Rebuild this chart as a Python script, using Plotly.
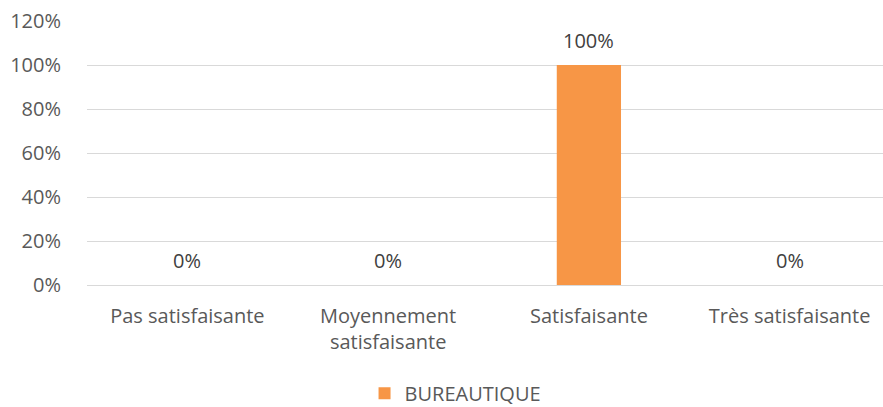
import plotly.graph_objects as go

categories = ["Pas satisfaisante", "Moyennement<br>satisfaisante", "Satisfaisante", "Très satisfaisante"]
values = [0.0, 0.0, 1.0, 0.0]
series_name = "BUREAUTIQUE"
y_ticks = [0, 0.2, 0.4, 0.6, 0.8, 1.0, 1.2]
y_tick_labels = ["0%", "20%", "40%", "60%", "80%", "100%", "120%"]

FONT = "'Open Sans', sans-serif"
TXT = "#595959"

fig = go.Figure()
fig.add_trace(go.Bar(
    x=categories, y=values, name=series_name,
    marker=dict(color="#F79646", line=dict(width=0)),
))

for c, v in zip(categories, values):
    fig.add_annotation(x=c, y=v, text=f"{v*100:.0f}%", showarrow=False,
                       yshift=25, font=dict(family=FONT, size=20, color="#404040"))

fig.update_layout(
    width=883, height=407,
    margin=dict(l=87, r=0, t=21, b=122),
    paper_bgcolor="white", plot_bgcolor="white",
    bargap=0.68,
    showlegend=True,
    legend=dict(orientation="h", x=0.463, xanchor="center",
                yref="container", y=0.034, yanchor="middle",
                font=dict(family=FONT, size=20, color=TXT), itemwidth=30),
    font=dict(family=FONT, size=20, color=TXT),
)
fig.update_xaxes(range=[-0.5, 3.465], showgrid=False, showline=False, zeroline=False,
                 automargin=False,
                 ticks="outside", ticklen=13, tickcolor="rgba(0,0,0,0)",
                 tickfont=dict(family=FONT, size=20, color=TXT))
fig.update_yaxes(range=[0, 1.2], tickvals=y_ticks, ticktext=y_tick_labels,
                 automargin=False,
                 showgrid=True, gridcolor="#D9D9D9", gridwidth=1,
                 zeroline=True, zerolinecolor="#D9D9D9", zerolinewidth=1,
                 showline=False, ticks="outside", ticklen=21, tickcolor="rgba(0,0,0,0)",
                 tickfont=dict(family=FONT, size=20, color=TXT))

fig.write_html("out.html", config={"displayModeBar": False},
               post_script="document.body.style.margin='0';document.body.style.overflow='hidden';")
